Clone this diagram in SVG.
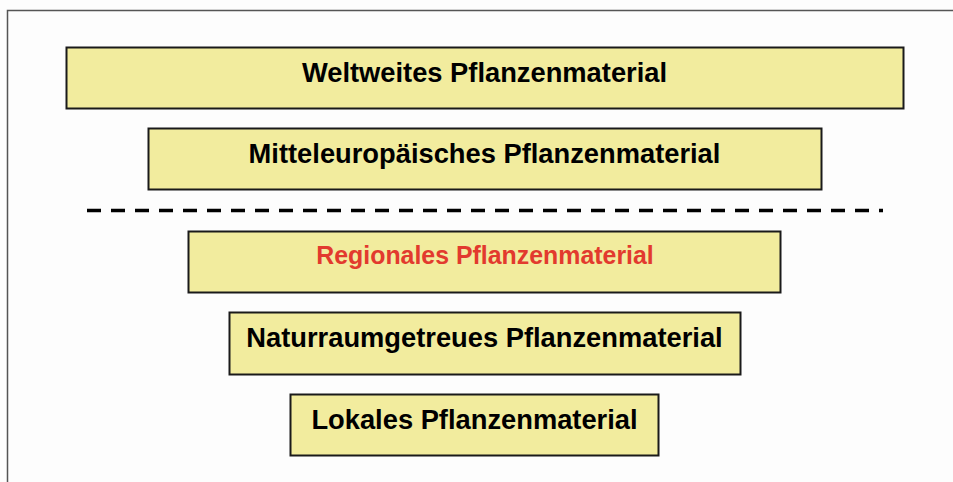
<svg xmlns="http://www.w3.org/2000/svg" width="953" height="482" viewBox="0 0 953 482">
<style>
.box{fill:#f2ec9e;stroke:#1a1a1a;stroke-width:2}
.t{font-family:"Liberation Sans",Arial,sans-serif;font-weight:bold;font-size:27.3px;fill:#000;text-anchor:middle}
.red{fill:#e23a2e;font-size:24.9px}
</style>
<rect x="0" y="0" width="953" height="482" fill="#fdfdfd"/>
<path d="M7.5 482V10.5H953" fill="none" stroke="#555" stroke-width="1.5"/>
<g id="connectors">
<line x1="87" y1="210.5" x2="883" y2="210.5" stroke="#000" stroke-width="3.5" stroke-dasharray="14 10"/>
</g>
<g id="n1"><rect class="box" x="66.5" y="47.5" width="837" height="61"/><text class="t" x="484.5" y="82">Weltweites Pflanzenmaterial</text></g>
<g id="n2"><rect class="box" x="148.5" y="128.5" width="673" height="61"/><text class="t" x="484.5" y="163">Mitteleuropäisches Pflanzenmaterial</text></g>
<g id="n3"><rect class="box" x="188.5" y="231.5" width="592" height="61"/><text class="t red" x="485" y="264">Regionales Pflanzenmaterial</text></g>
<g id="n4"><rect class="box" x="229.5" y="312.5" width="511" height="62"/><text class="t" x="484.5" y="347">Naturraumgetreues Pflanzenmaterial</text></g>
<g id="n5"><rect class="box" x="290.5" y="394.5" width="368" height="61"/><text class="t" x="474.5" y="429">Lokales Pflanzenmaterial</text></g>
</svg>
